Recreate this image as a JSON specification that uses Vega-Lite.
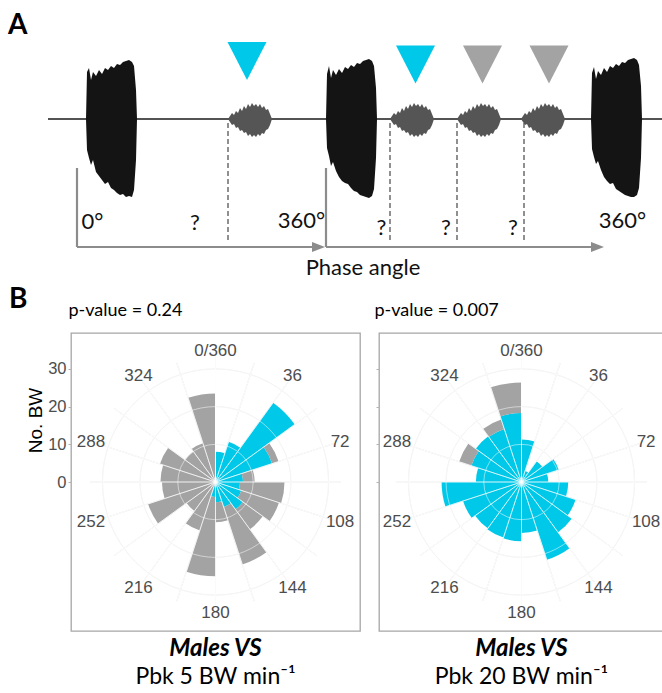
{
"$schema": "https://vega.github.io/schema/vega-lite/v6.json",
"padding": 0,
"background": "white",
"bounds": "flush",
"spacing": 33,
"config": {"view": {"stroke": null}, "font": "Liberation Sans"},
"datasets": {
"base": [{"x": 48, "x2": 662, "y": 119}],
"loud": [
{"id":"L1","x":86,"y":119,"y2":119},{"id":"L1","x":87,"y":72,"y2":150},{"id":"L1","x":89,"y":68,"y2":158},{"id":"L1","x":91,"y":80,"y2":165},{"id":"L1","x":93,"y":72,"y2":160},{"id":"L1","x":96,"y":76,"y2":172},{"id":"L1","x":99,"y":70,"y2":176},{"id":"L1","x":102,"y":74,"y2":180},{"id":"L1","x":105,"y":68,"y2":184},{"id":"L1","x":108,"y":70,"y2":182},{"id":"L1","x":111,"y":66,"y2":188},{"id":"L1","x":114,"y":68,"y2":190},{"id":"L1","x":117,"y":64,"y2":193},{"id":"L1","x":120,"y":65,"y2":195},{"id":"L1","x":123,"y":62,"y2":194},{"id":"L1","x":126,"y":61,"y2":197},{"id":"L1","x":129,"y":60,"y2":196},{"id":"L1","x":132,"y":62,"y2":197},{"id":"L1","x":134,"y":66,"y2":190},{"id":"L1","x":136,"y":90,"y2":160},{"id":"L1","x":137,"y":119,"y2":119},
{"id":"L2","x":326,"y":119,"y2":119},{"id":"L2","x":327,"y":74,"y2":148},{"id":"L2","x":329,"y":66,"y2":156},{"id":"L2","x":331,"y":78,"y2":166},{"id":"L2","x":333,"y":70,"y2":162},{"id":"L2","x":336,"y":75,"y2":171},{"id":"L2","x":339,"y":69,"y2":177},{"id":"L2","x":342,"y":73,"y2":181},{"id":"L2","x":345,"y":67,"y2":183},{"id":"L2","x":348,"y":69,"y2":184},{"id":"L2","x":351,"y":65,"y2":188},{"id":"L2","x":354,"y":67,"y2":191},{"id":"L2","x":357,"y":63,"y2":192},{"id":"L2","x":360,"y":64,"y2":195},{"id":"L2","x":363,"y":61,"y2":196},{"id":"L2","x":366,"y":60,"y2":197},{"id":"L2","x":369,"y":59,"y2":198},{"id":"L2","x":372,"y":61,"y2":196},{"id":"L2","x":374,"y":66,"y2":189},{"id":"L2","x":376,"y":88,"y2":158},{"id":"L2","x":377,"y":119,"y2":119},
{"id":"L3","x":591,"y":119,"y2":119},{"id":"L3","x":592,"y":73,"y2":149},{"id":"L3","x":594,"y":67,"y2":157},{"id":"L3","x":596,"y":79,"y2":164},{"id":"L3","x":598,"y":71,"y2":161},{"id":"L3","x":601,"y":75,"y2":170},{"id":"L3","x":604,"y":68,"y2":177},{"id":"L3","x":607,"y":72,"y2":181},{"id":"L3","x":610,"y":66,"y2":184},{"id":"L3","x":613,"y":68,"y2":183},{"id":"L3","x":616,"y":64,"y2":189},{"id":"L3","x":619,"y":66,"y2":191},{"id":"L3","x":622,"y":62,"y2":193},{"id":"L3","x":625,"y":63,"y2":195},{"id":"L3","x":628,"y":60,"y2":196},{"id":"L3","x":631,"y":59,"y2":197},{"id":"L3","x":634,"y":58,"y2":197},{"id":"L3","x":637,"y":60,"y2":195},{"id":"L3","x":639,"y":65,"y2":188},{"id":"L3","x":641,"y":86,"y2":158},{"id":"L3","x":642,"y":119,"y2":119}
],
"soft": [
{"id":"S1","x":228,"y":119,"y2":119},{"id":"S1","x":230,"y":116,"y2":122},{"id":"S1","x":232,"y":113,"y2":125},{"id":"S1","x":234,"y":115,"y2":124},{"id":"S1","x":236,"y":111,"y2":128},{"id":"S1","x":238,"y":113,"y2":127},{"id":"S1","x":240,"y":108,"y2":131},{"id":"S1","x":242,"y":111,"y2":130},{"id":"S1","x":244,"y":106,"y2":133},{"id":"S1","x":246,"y":109,"y2":132},{"id":"S1","x":248,"y":104,"y2":136},{"id":"S1","x":250,"y":107,"y2":134},{"id":"S1","x":252,"y":103,"y2":137},{"id":"S1","x":254,"y":106,"y2":135},{"id":"S1","x":256,"y":104,"y2":137},{"id":"S1","x":258,"y":107,"y2":134},{"id":"S1","x":260,"y":104,"y2":136},{"id":"S1","x":262,"y":108,"y2":133},{"id":"S1","x":264,"y":106,"y2":134},{"id":"S1","x":266,"y":110,"y2":130},{"id":"S1","x":268,"y":109,"y2":129},{"id":"S1","x":270,"y":114,"y2":125},{"id":"S1","x":272,"y":119,"y2":119},
{"id":"S2","x":390,"y":119,"y2":119},{"id":"S2","x":392,"y":116,"y2":122},{"id":"S2","x":394,"y":113,"y2":125},{"id":"S2","x":396,"y":115,"y2":124},{"id":"S2","x":398,"y":111,"y2":128},{"id":"S2","x":400,"y":113,"y2":127},{"id":"S2","x":402,"y":108,"y2":131},{"id":"S2","x":404,"y":111,"y2":130},{"id":"S2","x":406,"y":106,"y2":133},{"id":"S2","x":408,"y":109,"y2":132},{"id":"S2","x":410,"y":104,"y2":136},{"id":"S2","x":412,"y":107,"y2":134},{"id":"S2","x":414,"y":103,"y2":137},{"id":"S2","x":416,"y":106,"y2":135},{"id":"S2","x":418,"y":104,"y2":137},{"id":"S2","x":420,"y":107,"y2":134},{"id":"S2","x":422,"y":104,"y2":136},{"id":"S2","x":424,"y":108,"y2":133},{"id":"S2","x":426,"y":106,"y2":134},{"id":"S2","x":428,"y":110,"y2":130},{"id":"S2","x":430,"y":109,"y2":129},{"id":"S2","x":432,"y":114,"y2":125},{"id":"S2","x":434,"y":119,"y2":119},
{"id":"S3","x":457,"y":119,"y2":119},{"id":"S3","x":459,"y":116,"y2":122},{"id":"S3","x":461,"y":113,"y2":125},{"id":"S3","x":463,"y":115,"y2":124},{"id":"S3","x":465,"y":111,"y2":128},{"id":"S3","x":467,"y":113,"y2":127},{"id":"S3","x":469,"y":108,"y2":131},{"id":"S3","x":471,"y":111,"y2":130},{"id":"S3","x":473,"y":106,"y2":133},{"id":"S3","x":475,"y":109,"y2":132},{"id":"S3","x":477,"y":104,"y2":136},{"id":"S3","x":479,"y":107,"y2":134},{"id":"S3","x":481,"y":103,"y2":137},{"id":"S3","x":483,"y":106,"y2":135},{"id":"S3","x":485,"y":104,"y2":137},{"id":"S3","x":487,"y":107,"y2":134},{"id":"S3","x":489,"y":104,"y2":136},{"id":"S3","x":491,"y":108,"y2":133},{"id":"S3","x":493,"y":106,"y2":134},{"id":"S3","x":495,"y":110,"y2":130},{"id":"S3","x":497,"y":109,"y2":129},{"id":"S3","x":499,"y":114,"y2":125},{"id":"S3","x":501,"y":119,"y2":119},
{"id":"S4","x":521,"y":119,"y2":119},{"id":"S4","x":523,"y":116,"y2":122},{"id":"S4","x":525,"y":113,"y2":125},{"id":"S4","x":527,"y":115,"y2":124},{"id":"S4","x":529,"y":111,"y2":128},{"id":"S4","x":531,"y":113,"y2":127},{"id":"S4","x":533,"y":108,"y2":131},{"id":"S4","x":535,"y":111,"y2":130},{"id":"S4","x":537,"y":106,"y2":133},{"id":"S4","x":539,"y":109,"y2":132},{"id":"S4","x":541,"y":104,"y2":136},{"id":"S4","x":543,"y":107,"y2":134},{"id":"S4","x":545,"y":103,"y2":137},{"id":"S4","x":547,"y":106,"y2":135},{"id":"S4","x":549,"y":104,"y2":137},{"id":"S4","x":551,"y":107,"y2":134},{"id":"S4","x":553,"y":104,"y2":136},{"id":"S4","x":555,"y":108,"y2":133},{"id":"S4","x":557,"y":106,"y2":134},{"id":"S4","x":559,"y":110,"y2":130},{"id":"S4","x":561,"y":109,"y2":129},{"id":"S4","x":563,"y":114,"y2":125},{"id":"S4","x":565,"y":119,"y2":119}
],
"tri": [{"x":247,"y":61,"k":"in"},{"x":415.5,"y":64.5,"k":"in"},{"x":482.5,"y":64.5,"k":"out"},{"x":549,"y":64.5,"k":"out"}],
"dash": [{"x":228,"y":123,"y2":243},{"x":390,"y":123,"y2":243},{"x":457,"y":123,"y2":243},{"x":524,"y":123,"y2":243}],
"arrow": [{"x":77,"y":168,"x2":77,"y2":247},{"x":326,"y":168,"x2":326,"y2":247},{"x":77,"y":247,"x2":314,"y2":247},{"x":326,"y":247,"x2":593,"y2":247}],
"head": [{"x":318.5,"y":247},{"x":597.5,"y":247}],
"txt": [{"x":92.5,"y":229,"t":"0°"},{"x":195,"y":230,"t":"?"},{"x":301.5,"y":228,"t":"360°"},{"x":381.5,"y":235,"t":"?"},{"x":446,"y":235,"t":"?"},{"x":513,"y":235,"t":"?"},{"x":622.5,"y":228,"t":"360°"},{"x":363,"y":275,"t":"Phase angle"}],
"bold": [{"x":8,"y":34,"t":"A"},{"x":9,"y":308,"t":"B"}],
"rose": [
{"c":"5","s":0,"e":18,"k":"in","r0":0,"r1":8},
{"c":"5","s":18,"e":36,"k":"in","r0":0,"r1":11.2},
{"c":"5","s":36,"e":54,"k":"in","r0":0,"r1":26},
{"c":"5","s":54,"e":72,"k":"in","r0":0,"r1":15.8},{"c":"5","s":54,"e":72,"k":"out","r0":15.8,"r1":17.6},
{"c":"5","s":72,"e":90,"k":"in","r0":0,"r1":7.3},{"c":"5","s":72,"e":90,"k":"out","r0":7.3,"r1":10.4},
{"c":"5","s":90,"e":108,"k":"in","r0":0,"r1":6.5},{"c":"5","s":90,"e":108,"k":"out","r0":6.5,"r1":18.3},
{"c":"5","s":108,"e":126,"k":"in","r0":0,"r1":7.2},{"c":"5","s":108,"e":126,"k":"out","r0":7.2,"r1":17.7},
{"c":"5","s":126,"e":144,"k":"in","r0":0,"r1":9},{"c":"5","s":126,"e":144,"k":"out","r0":9,"r1":15.5},
{"c":"5","s":144,"e":162,"k":"in","r0":0,"r1":7},{"c":"5","s":144,"e":162,"k":"out","r0":7,"r1":23},
{"c":"5","s":162,"e":180,"k":"in","r0":0,"r1":5.4},{"c":"5","s":162,"e":180,"k":"out","r0":5.4,"r1":10.7},
{"c":"5","s":180,"e":198,"k":"in","r0":0,"r1":4},{"c":"5","s":180,"e":198,"k":"out","r0":4,"r1":25},
{"c":"5","s":198,"e":216,"k":"out","r0":0,"r1":13.5},
{"c":"5","s":216,"e":234,"k":"out","r0":0,"r1":9.5},
{"c":"5","s":234,"e":252,"k":"out","r0":0,"r1":18.8},
{"c":"5","s":252,"e":270,"k":"out","r0":0,"r1":14.2},
{"c":"5","s":270,"e":288,"k":"out","r0":0,"r1":14.6},
{"c":"5","s":288,"e":306,"k":"out","r0":0,"r1":15.5},
{"c":"5","s":306,"e":324,"k":"out","r0":0,"r1":10},
{"c":"5","s":324,"e":342,"k":"out","r0":0,"r1":10.8},
{"c":"5","s":342,"e":360,"k":"out","r0":0,"r1":23.5},
{"c":"20","s":0,"e":18,"k":"in","r0":0,"r1":11.3},
{"c":"20","s":18,"e":36,"k":"in","r0":0,"r1":3.1},
{"c":"20","s":36,"e":54,"k":"in","r0":0,"r1":6.8},
{"c":"20","s":54,"e":72,"k":"in","r0":0,"r1":10.4},
{"c":"20","s":72,"e":90,"k":"in","r0":0,"r1":7.1},
{"c":"20","s":90,"e":108,"k":"in","r0":0,"r1":12.4},
{"c":"20","s":108,"e":126,"k":"in","r0":0,"r1":15.1},
{"c":"20","s":126,"e":144,"k":"in","r0":0,"r1":16.5},
{"c":"20","s":144,"e":162,"k":"in","r0":0,"r1":21.7},
{"c":"20","s":162,"e":180,"k":"in","r0":0,"r1":13.5},
{"c":"20","s":180,"e":198,"k":"in","r0":0,"r1":15.7},
{"c":"20","s":198,"e":216,"k":"in","r0":0,"r1":15.5},
{"c":"20","s":216,"e":234,"k":"in","r0":0,"r1":15.2},
{"c":"20","s":234,"e":252,"k":"in","r0":0,"r1":16.3},
{"c":"20","s":252,"e":270,"k":"in","r0":0,"r1":21.2},
{"c":"20","s":270,"e":288,"k":"in","r0":0,"r1":12.1},
{"c":"20","s":288,"e":306,"k":"in","r0":0,"r1":14},{"c":"20","s":288,"e":306,"k":"out","r0":14,"r1":17.4},
{"c":"20","s":306,"e":324,"k":"in","r0":0,"r1":15},
{"c":"20","s":324,"e":342,"k":"in","r0":0,"r1":14.8},{"c":"20","s":324,"e":342,"k":"out","r0":14.8,"r1":17.4},
{"c":"20","s":342,"e":360,"k":"in","r0":0,"r1":18.3},{"c":"20","s":342,"e":360,"k":"out","r0":18.3,"r1":26.4}
],
"spokes": [{"a":0},{"a":18},{"a":36},{"a":54},{"a":72},{"a":90},{"a":108},{"a":126},{"a":144},{"a":162},{"a":180},{"a":198},{"a":216},{"a":234},{"a":252},{"a":270},{"a":288},{"a":306},{"a":324},{"a":342}],
"rings": [{"r":10},{"r":20},{"r":30}],
"tlab": [{"a":0,"lab":"0/360"},{"a":36,"lab":"36"},{"a":72,"lab":"72"},{"a":108,"lab":"108"},{"a":144,"lab":"144"},{"a":180,"lab":"180"},{"a":216,"lab":"216"},{"a":252,"lab":"252"},{"a":288,"lab":"288"},{"a":324,"lab":"324"}]
},
"vconcat": [
{
"width": 662, "height": 300,
"encoding": {
"x": {"field": "x", "type": "quantitative", "scale": {"domain": [0, 662], "nice": false, "zero": false}, "axis": null},
"y": {"field": "y", "type": "quantitative", "scale": {"domain": [0, 300], "reverse": true, "nice": false, "zero": false}, "axis": null}
},
"layer": [
{"data": {"name": "base"}, "mark": {"type": "rule", "color": "#1A1A1A", "strokeWidth": 1.6}, "encoding": {"x2": {"field": "x2"}}},
{"data": {"name": "loud"}, "mark": {"type": "area", "color": "#141414"}, "encoding": {"y2": {"field": "y2"}, "detail": {"field": "id"}}},
{"data": {"name": "soft"}, "mark": {"type": "area", "color": "#555555"}, "encoding": {"y2": {"field": "y2"}, "detail": {"field": "id"}}},
{"data": {"name": "tri"}, "mark": {"type": "point", "shape": "M-1,-0.97L1,-0.97L0,0.97Z", "filled": true, "size": 1521, "opacity": 1},
 "encoding": {"color": {"field": "k", "type": "nominal", "scale": {"domain": ["in", "out"], "range": ["#00C8E8", "#A3A3A3"]}, "legend": null}}},
{"data": {"name": "dash"}, "mark": {"type": "rule", "color": "#555555", "strokeWidth": 1.3, "strokeDash": [5, 3]}, "encoding": {"y2": {"field": "y2"}}},
{"data": {"name": "arrow"}, "mark": {"type": "rule", "color": "#8C8C8C", "strokeWidth": 2.2}, "encoding": {"x2": {"field": "x2"}, "y2": {"field": "y2"}}},
{"data": {"name": "head"}, "mark": {"type": "point", "shape": "M-1,-0.77L1,0L-1,0.77Z", "filled": true, "size": 169, "color": "#8C8C8C", "opacity": 1}},
{"data": {"name": "txt"}, "mark": {"type": "text", "font": "Lato", "fontSize": 22, "color": "#111111", "align": "center", "baseline": "alphabetic"}, "encoding": {"text": {"field": "t"}}},
{"data": {"name": "bold"}, "mark": {"type": "text", "font": "Lato", "fontSize": 28, "fontWeight": "bold", "color": "#000000", "align": "left", "baseline": "alphabetic"}, "encoding": {"text": {"field": "t"}}}
]
},
{
"spacing": 12,
"hconcat": [
{"width": 13, "height": 10, "data": {"values": []}, "mark": "point"},
{
"width": 289, "height": 298,
"view": {"stroke": "#A6A6A6", "strokeWidth": 1.3},
"title": {"text": "Males VS", "subtitle": "Pbk 5 BW min⁻¹", "orient": "bottom", "anchor": "middle", "offset": 6, "font": "Lato", "fontSize": 24, "fontStyle": "italic", "fontWeight": "bold", "color": "#000000", "subtitleFont": "Lato", "subtitleFontSize": 23, "subtitleFontStyle": "normal", "subtitleFontWeight": "normal", "subtitleColor": "#000000", "subtitlePadding": 5},
"layer": [
{"data": {"name": "rings"}, "mark": {"type": "arc", "filled": false, "color": "#EBEBEB", "strokeWidth": 1},
 "encoding": {"theta": {"datum": 0, "type": "quantitative", "scale": {"domain": [0, 360], "range": [0, 6.283185307]}}, "theta2": {"datum": 360}, "radius": {"field": "r", "type": "quantitative", "stack": null, "scale": {"type": "linear", "domain": [0, 30], "range": [0, 113.1], "zero": true, "nice": false}}}},
{"data": {"name": "spokes"}, "mark": {"type": "arc", "filled": false, "color": "#EBEBEB", "strokeWidth": 1},
 "encoding": {"theta": {"field": "a", "type": "quantitative", "stack": null, "scale": {"domain": [0, 360], "range": [0, 6.283185307]}}, "theta2": {"field": "a"}, "radius": {"datum": 33.2, "type": "quantitative", "scale": {"type": "linear", "domain": [0, 30], "range": [0, 113.1], "zero": true, "nice": false}}}},
{"data": {"name": "rose"}, "transform": [{"filter": "datum.c == '5'"}], "mark": {"type": "arc"},
 "encoding": {"theta": {"field": "s", "type": "quantitative", "stack": null, "scale": {"domain": [0, 360], "range": [0, 6.283185307]}}, "theta2": {"field": "e"},
 "radius": {"field": "r1", "type": "quantitative", "stack": null, "scale": {"type": "linear", "domain": [0, 30], "range": [0, 113.1], "zero": true, "nice": false}}, "radius2": {"field": "r0"},
 "color": {"field": "k", "type": "nominal", "scale": {"domain": ["in", "out"], "range": ["#00C6E6", "#A3A3A3"]}, "legend": null}}},
{"data": {"name": "rings"}, "mark": {"type": "arc", "filled": false, "color": "#FFFFFF", "strokeWidth": 1, "opacity": 0.5},
 "encoding": {"theta": {"datum": 0, "type": "quantitative", "scale": {"domain": [0, 360], "range": [0, 6.283185307]}}, "theta2": {"datum": 360}, "radius": {"field": "r", "type": "quantitative", "stack": null, "scale": {"type": "linear", "domain": [0, 30], "range": [0, 113.1], "zero": true, "nice": false}}}},
{"data": {"name": "spokes"}, "mark": {"type": "arc", "filled": false, "color": "#FFFFFF", "strokeWidth": 1, "opacity": 0.5},
 "encoding": {"theta": {"field": "a", "type": "quantitative", "stack": null, "scale": {"domain": [0, 360], "range": [0, 6.283185307]}}, "theta2": {"field": "a"}, "radius": {"datum": 33.2, "type": "quantitative", "scale": {"type": "linear", "domain": [0, 30], "range": [0, 113.1], "zero": true, "nice": false}}}},
{"data": {"name": "tlab"}, "mark": {"type": "text", "font": "Liberation Sans", "fontSize": 17, "color": "#4D4D4D"},
 "encoding": {"theta": {"field": "a", "type": "quantitative", "stack": null, "scale": {"domain": [0, 360], "range": [0, 6.283185307]}}, "radius": {"datum": 34.75, "type": "quantitative", "scale": {"type": "linear", "domain": [0, 30], "range": [0, 113.1], "zero": true, "nice": false}}, "text": {"field": "lab"}}},
{"data": {"values": [{"u": 0.5, "v": 0}]}, "mark": {"type": "point", "opacity": 0},
 "encoding": {
 "x": {"field": "u", "type": "quantitative", "scale": {"domain": [0, 1], "nice": false}, "axis": {"orient": "top", "title": "p-value =  0.24", "titleAnchor": "start", "titleX": -3, "titleY": -17.5, "titleAlign": "left", "titleBaseline": "alphabetic", "titleFont": "Lato", "titleFontSize": 18, "titleFontWeight": "normal", "titleColor": "#000000", "labels": false, "ticks": false, "domain": false, "grid": false}},
 "y": {"field": "v", "type": "quantitative", "scale": {"domain": [-39.52, 39.52], "nice": false, "zero": false}, "axis": {"values": [0, 10, 20, 30], "title": "No. BW", "titleX": -30, "titleY": 87, "titleAngle": -90, "titleAlign": "center", "titleBaseline": "alphabetic", "titleFont": "Liberation Sans", "titleFontSize": 19, "titleFontWeight": "normal", "titleColor": "#000000", "labelFont": "Liberation Sans", "labelFontSize": 16.5, "labelColor": "#4D4D4D", "tickColor": "#B3B3B3", "tickSize": 3, "labelPadding": 2, "domain": false, "grid": false}}
 }}
]
},
{
"width": 285, "height": 298,
"view": {"stroke": "#A6A6A6", "strokeWidth": 1.3},
"title": {"text": "Males VS", "subtitle": "Pbk 20 BW min⁻¹", "orient": "bottom", "anchor": "middle", "offset": 6, "font": "Lato", "fontSize": 24, "fontStyle": "italic", "fontWeight": "bold", "color": "#000000", "subtitleFont": "Lato", "subtitleFontSize": 23, "subtitleFontStyle": "normal", "subtitleFontWeight": "normal", "subtitleColor": "#000000", "subtitlePadding": 5},
"layer": [
{"data": {"name": "rings"}, "mark": {"type": "arc", "filled": false, "color": "#EBEBEB", "strokeWidth": 1},
 "encoding": {"theta": {"datum": 0, "type": "quantitative", "scale": {"domain": [0, 360], "range": [0, 6.283185307]}}, "theta2": {"datum": 360}, "radius": {"field": "r", "type": "quantitative", "stack": null, "scale": {"type": "linear", "domain": [0, 30], "range": [0, 113.1], "zero": true, "nice": false}}}},
{"data": {"name": "spokes"}, "mark": {"type": "arc", "filled": false, "color": "#EBEBEB", "strokeWidth": 1},
 "encoding": {"theta": {"field": "a", "type": "quantitative", "stack": null, "scale": {"domain": [0, 360], "range": [0, 6.283185307]}}, "theta2": {"field": "a"}, "radius": {"datum": 33.2, "type": "quantitative", "scale": {"type": "linear", "domain": [0, 30], "range": [0, 113.1], "zero": true, "nice": false}}}},
{"data": {"name": "rose"}, "transform": [{"filter": "datum.c == '20'"}], "mark": {"type": "arc"},
 "encoding": {"theta": {"field": "s", "type": "quantitative", "stack": null, "scale": {"domain": [0, 360], "range": [0, 6.283185307]}}, "theta2": {"field": "e"},
 "radius": {"field": "r1", "type": "quantitative", "stack": null, "scale": {"type": "linear", "domain": [0, 30], "range": [0, 113.1], "zero": true, "nice": false}}, "radius2": {"field": "r0"},
 "color": {"field": "k", "type": "nominal", "scale": {"domain": ["in", "out"], "range": ["#00C6E6", "#A3A3A3"]}, "legend": null}}},
{"data": {"name": "rings"}, "mark": {"type": "arc", "filled": false, "color": "#FFFFFF", "strokeWidth": 1, "opacity": 0.5},
 "encoding": {"theta": {"datum": 0, "type": "quantitative", "scale": {"domain": [0, 360], "range": [0, 6.283185307]}}, "theta2": {"datum": 360}, "radius": {"field": "r", "type": "quantitative", "stack": null, "scale": {"type": "linear", "domain": [0, 30], "range": [0, 113.1], "zero": true, "nice": false}}}},
{"data": {"name": "spokes"}, "mark": {"type": "arc", "filled": false, "color": "#FFFFFF", "strokeWidth": 1, "opacity": 0.5},
 "encoding": {"theta": {"field": "a", "type": "quantitative", "stack": null, "scale": {"domain": [0, 360], "range": [0, 6.283185307]}}, "theta2": {"field": "a"}, "radius": {"datum": 33.2, "type": "quantitative", "scale": {"type": "linear", "domain": [0, 30], "range": [0, 113.1], "zero": true, "nice": false}}}},
{"data": {"name": "tlab"}, "mark": {"type": "text", "font": "Liberation Sans", "fontSize": 17, "color": "#4D4D4D"},
 "encoding": {"theta": {"field": "a", "type": "quantitative", "stack": null, "scale": {"domain": [0, 360], "range": [0, 6.283185307]}}, "radius": {"datum": 34.75, "type": "quantitative", "scale": {"type": "linear", "domain": [0, 30], "range": [0, 113.1], "zero": true, "nice": false}}, "text": {"field": "lab"}}},
{"data": {"values": [{"u": 0.5, "v": 0}]}, "mark": {"type": "point", "opacity": 0},
 "encoding": {
 "x": {"field": "u", "type": "quantitative", "scale": {"domain": [0, 1], "nice": false}, "axis": {"orient": "top", "title": "p-value =  0.007", "titleAnchor": "start", "titleX": -5, "titleY": -17.5, "titleAlign": "left", "titleBaseline": "alphabetic", "titleFont": "Lato", "titleFontSize": 18, "titleFontWeight": "normal", "titleColor": "#000000", "labels": false, "ticks": false, "domain": false, "grid": false}},
 "y": {"field": "v", "type": "quantitative", "scale": {"domain": [-39.52, 39.52], "nice": false, "zero": false}, "axis": {"values": [0, 10, 20, 30], "title": null, "labels": false, "tickColor": "#B3B3B3", "tickSize": 3, "minExtent": 0, "domain": false, "grid": false}}
 }}
]
}
]
}
]
}
